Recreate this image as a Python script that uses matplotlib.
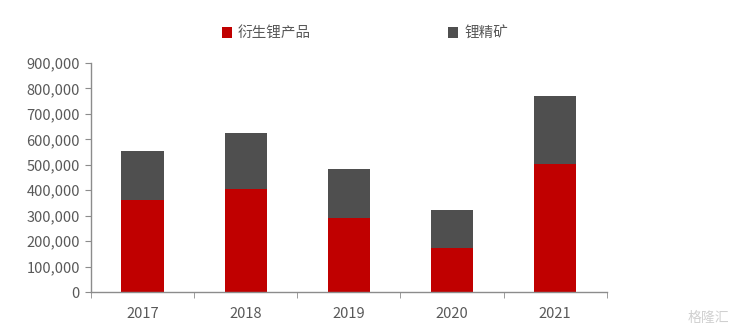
import matplotlib
matplotlib.use("Agg")
import matplotlib.pyplot as plt
from matplotlib.ticker import FuncFormatter, FixedLocator
import numpy as np

plt.rcParams['font.family'] = ['Noto Sans CJK SC', 'DejaVu Sans']

years = ["2017", "2018", "2019", "2020", "2021"]
derivative = [363000, 404000, 292000, 174000, 504000]
concentrate = [190000, 220000, 191000, 149000, 266000]
series_names = ["衍生锂产品", "锂精矿"]

red = "#C00000"
gray = "#4F4F4F"
txt = "#595959"

fig = plt.figure(figsize=(7.4, 3.35), dpi=100)
ax = fig.add_axes([0.123, 0.128, 0.697, 0.684])

x = np.arange(len(years))
w = 0.41
b1 = ax.bar(x, derivative, w, color=red, label=series_names[0])
b2 = ax.bar(x, concentrate, w, bottom=derivative, color=gray, label=series_names[1])

ax.set_xlim(-0.5, len(years) - 0.5)
ax.set_ylim(0, 900000)
ax.set_yticks(np.arange(0, 900001, 100000))
ax.yaxis.set_major_formatter(FuncFormatter(lambda v, p: f"{int(v):,}"))
ax.set_xticks(x)
ax.set_xticklabels(years)
ax.xaxis.set_minor_locator(FixedLocator(np.arange(-0.5, len(years), 1.0)))

for s in ["top", "right"]:
    ax.spines[s].set_visible(False)
for s in ["left", "bottom"]:
    ax.spines[s].set_color("#8C8C8C")
    ax.spines[s].set_linewidth(1.0)

ax.tick_params(axis="y", which="major", length=4, color="#8C8C8C", labelcolor=txt, labelsize=10.5, pad=4)
ax.tick_params(axis="x", which="major", length=0, labelcolor=txt, labelsize=10.5, pad=11)
ax.tick_params(axis="x", which="minor", length=4, color="#8C8C8C")

fig.legend(handles=[b1, b2], labels=series_names, loc="center", bbox_to_anchor=(0.493, 0.9),
           ncol=2, frameon=False, fontsize=10.5, handlelength=0.7, handleheight=0.7,
           columnspacing=9.4, handletextpad=0.4, labelcolor=txt)

fig.text(0.985, 0.03, "格隆汇", ha="right", va="bottom", fontsize=10, color="#D0D0D0")

fig.savefig("out.png", dpi=100)
